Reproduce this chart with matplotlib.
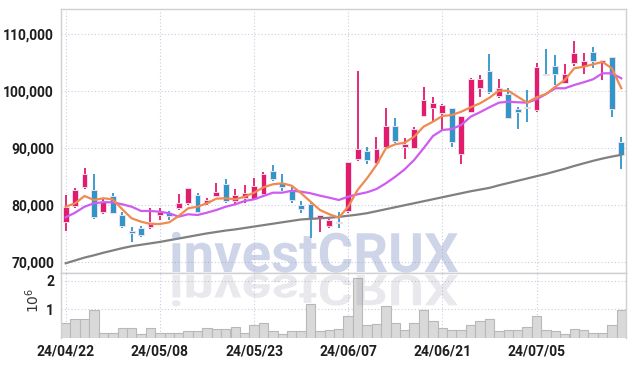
import numpy as np
import matplotlib

matplotlib.use("Agg")
import matplotlib.pyplot as plt
from matplotlib.textpath import TextPath
from matplotlib.patches import PathPatch
from matplotlib.font_manager import FontProperties
from matplotlib.transforms import Affine2D

# daily OHLC (KRW)
OPENS = [77050, 79870, 83200, 82630, 78810, 81570, 78230, 75370, 75950, 76180,
         78180, 78530, 79520, 80290, 81750, 80290, 81630, 83680, 80750, 81270,
         80990, 81920, 85960, 83910, 82500, 79990, 80170, 77650, 76350, 77060,
         78990, 88030, 89480, 87420, 90230, 93870, 90130, 89950, 95680, 97090,
         96210, 96980, 88950, 96380, 100500, 103530, 99140, 99490, 96910, 97210,
         96680, 103060, 104470, 101480, 104890, 104410, 106820, 105060, 105990, 91070]
HIGHS = [81750, 82980, 86440, 85380, 81270, 82100, 78810, 76180, 76350, 79520,
         79410, 78990, 81870, 82980, 82150, 81170, 83800, 84510, 82750, 83510,
         84680, 85840, 87020, 85440, 83210, 80750, 80410, 78230, 77480, 78810,
         87600, 103590, 90230, 91990, 96980, 95220, 91710, 93750, 100670, 98910,
         97740, 96980, 95630, 102250, 102830, 106470, 102080, 100500, 97260, 100200,
         104890, 107350, 106350, 104770, 108860, 106750, 107700, 105470, 105990, 91890]
LOWS = [75500, 79520, 82750, 77480, 78410, 78410, 75900, 73540, 74420, 75720,
        77350, 77350, 79110, 80000, 78530, 80000, 81450, 80410, 80170, 80410,
        80870, 81570, 84260, 82500, 80410, 78640, 74140, 75300, 75900, 75900,
        78530, 87780, 87190, 87320, 90130, 90940, 88030, 89790, 95510, 94630,
        93170, 90230, 87190, 96100, 99020, 99490, 98740, 95330, 93290, 94630,
        96380, 102830, 101070, 101480, 104410, 103010, 104010, 101950, 95400, 86300]
CLOSES = [79700, 82630, 85440, 77830, 80690, 78640, 76350, 75020, 74770, 77000,
          78760, 78060, 80290, 82980, 78810, 80870, 82280, 80750, 81750, 82150,
          83330, 85440, 84560, 83210, 80870, 79290, 77530, 78230, 77350, 76780,
          87490, 89840, 87900, 89830, 93870, 91240, 90710, 93340, 98440, 97860,
          97560, 91110, 95630, 102080, 102080, 99790, 100500, 95330, 96380, 97090,
          104290, 102880, 103010, 103010, 106750, 105290, 105340, 105470, 96910, 88830]

# moving averages as drawn
MA5 = [79700, 80290, 81570, 80870, 81170, 80990, 79240, 77650, 77060, 76650,
       76650, 76950, 78060, 79410, 79690, 80290, 81100, 81170, 80990, 81450,
       82150, 83100, 83630, 83800, 83380, 82050, 80570, 79110, 78360, 77760,
       79700, 82640, 84680, 87020, 89950, 90660, 90940, 91990, 93750, 94630,
       95630, 95800, 96380, 97160, 97860, 98840, 100070, 100070, 99020, 97970,
       98910, 99490, 100780, 101950, 104010, 104290, 104710, 105120, 104010, 100500]
MA20 = [77830, 78640, 79690, 80290, 80470, 80470, 80110, 79690, 78940, 78940,
        78810, 78530, 77940, 78360, 78230, 78640, 79110, 79690, 80110, 80690,
        80990, 81570, 82150, 82150, 82500, 82330, 82050, 81630, 81270, 80870,
        81450, 81870, 82220, 82800, 83800, 84960, 86260, 87900, 89950, 92110,
        93170, 93340, 94050, 95500, 96300, 97160, 97970, 98140, 98040, 97970,
        98560, 99490, 100500, 100500, 101070, 101550, 102080, 103130, 103130, 102250]
MA120 = [69750, 70250, 70750, 71150, 71600, 72000, 72400, 72750, 73000, 73250,
         73500, 73800, 74100, 74400, 74700, 75000, 75250, 75500, 75700, 75950,
         76200, 76450, 76700, 76950, 77200, 77450, 77550, 77650, 77750, 77900,
         78100, 78300, 78550, 78900, 79250, 79600, 79950, 80300, 80650, 81000,
         81350, 81700, 82050, 82400, 82700, 83000, 83450, 83850, 84250, 84650,
         85050, 85450, 85900, 86350, 86850, 87300, 87750, 88150, 88500, 88800]

# volume in millions of shares
VOLUME = [0.51, 0.65, 0.65, 0.98, 0.19, 0.19, 0.36, 0.36, 0.15, 0.36,
          0.19, 0.19, 0.19, 0.24, 0.24, 0.36, 0.33, 0.33, 0.40, 0.19,
          0.45, 0.51, 0.26, 0.13, 0.26, 0.26, 1.21, 0.24, 0.27, 0.33,
          0.76, 2.09, 0.45, 0.48, 1.12, 0.51, 0.29, 0.54, 0.98, 0.58,
          0.36, 0.27, 0.29, 0.44, 0.58, 0.68, 0.24, 0.29, 0.29, 0.40,
          0.76, 0.27, 0.24, 0.15, 0.33, 0.29, 0.19, 0.19, 0.47, 0.98]

DATE_IDX = [0, 10, 20, 30, 40, 50]
DATE_LABELS = ["24/04/22", "24/05/08", "24/05/23", "24/06/07", "24/06/21", "24/07/05"]
PRICE_TICKS = [70000, 80000, 90000, 100000, 110000]

RED = "#e31b6d"
BLUE = "#2f96c9"
GRID = dict(color="#c9cce0", linestyle=(0, (1, 2)), linewidth=0.8)
TICK_FONT = dict(family="Roboto", size=10, weight="bold", color="#1e1e1e")

W, H = 634, 366
fig = plt.figure(figsize=(W / 100, H / 100), dpi=100)
ax = fig.add_axes([61 / W, 1 - 273 / H, 565 / W, 264 / H])
axv = fig.add_axes([61 / W, 1 - 338 / H, 565 / W, 65 / H], sharex=ax)

o = np.array(OPENS, float)
c = np.array(CLOSES, float)
x = np.arange(len(o))
colors = np.where(c >= o, RED, BLUE)

# candles
ax.vlines(x, LOWS, HIGHS, colors=colors, linewidth=1.3, zorder=3)
ax.bar(x, np.maximum(np.abs(c - o), 150), 0.62, bottom=np.minimum(o, c),
       color=colors, edgecolor="#f2dcea", linewidth=0.7, zorder=4)

ax.plot(x, MA120, color="#808080", lw=1.6, zorder=5)
ax.plot(x, MA20, color="#cf5cf0", lw=1.6, zorder=5)
ax.plot(x, MA5, color="#ef8a50", lw=1.6, zorder=6)

ax.set_xlim(-0.5, len(o) - 0.5)
ax.set_ylim(68040, 114430)
ax.set_yticks(PRICE_TICKS)
ax.set_yticklabels([f"{v:,}" for v in PRICE_TICKS], **TICK_FONT)
ax.set_xticks(DATE_IDX)
ax.tick_params(axis="x", labelbottom=False, length=0)
ax.tick_params(axis="y", length=0, pad=5)
ax.grid(True, **GRID)

# volume
axv.bar(x, VOLUME, 1.0, color="#d9d9d9", edgecolor="#b8b8b8", linewidth=0.8, zorder=2)
axv.set_ylim(0, 2.28)
axv.set_yticks([1, 2])
axv.set_yticklabels(["1", "2"], **TICK_FONT)
axv.set_xticks(DATE_IDX)
axv.set_xticklabels(DATE_LABELS, **TICK_FONT)
axv.tick_params(length=0, pad=5)
axv.grid(True, **GRID)
fig.text(33 / W, 1 - 300 / H, "$10^6$", rotation=90, ha="center", va="center",
         fontsize=10, color="#333333")

for a in (ax, axv):
    for s in a.spines.values():
        s.set_color("#d0d0d0")
        s.set_linewidth(1.0)
axv.spines["bottom"].set_visible(False)

# watermark and its reflection
fp = FontProperties(family="Roboto", weight="bold")
tp = TextPath((0, 0), "investCRUX", size=100, prop=fp)
ext = tp.get_extents()
sx = 286 / ext.width
to_fig = Affine2D().scale(1 / W, 1 / H) + fig.transFigure
wm = PathPatch(tp, facecolor="#8797c6", edgecolor="none", alpha=0.4, zorder=10,
               transform=Affine2D().translate(-ext.x0, 0).scale(sx, sx)
               .translate(172, H - 272) + to_fig)
rf = PathPatch(tp, facecolor="#9090a8", edgecolor="none", alpha=0.2, zorder=10,
               transform=Affine2D().translate(-ext.x0, 0).scale(sx, -sx * 0.78)
               .translate(172, H - 275) + to_fig)
fig.add_artist(wm)
fig.add_artist(rf)

fig.savefig("out.png", dpi=100)
